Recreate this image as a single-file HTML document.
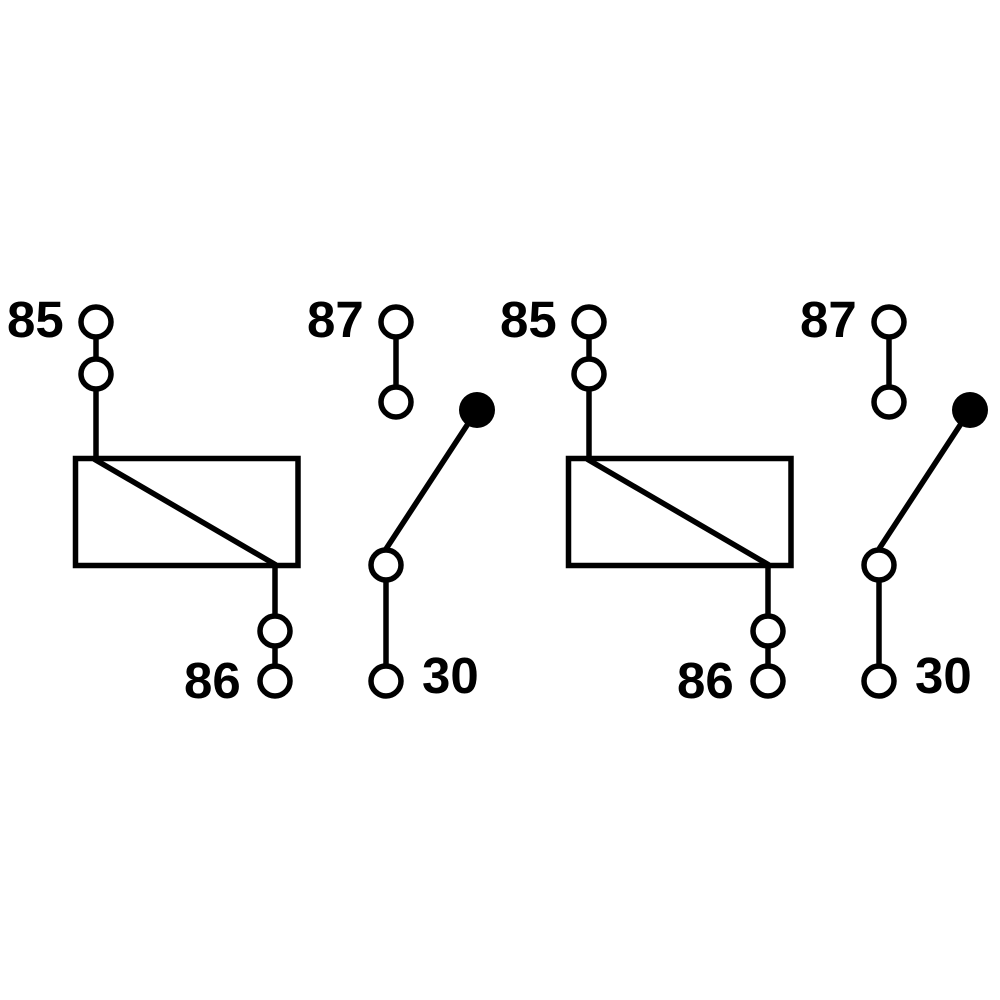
<!DOCTYPE html>
<html><head><style>body{margin:0;background:#fff}svg{display:block}</style></head>
<body>
<svg width="1000" height="1000" viewBox="0 0 1000 1000" xmlns="http://www.w3.org/2000/svg">
<defs>
<g id="r" stroke="#000" stroke-width="5.5" fill="none">
  <line x1="96" y1="338" x2="96" y2="358"/>
  <line x1="96" y1="390" x2="96" y2="458"/>
  <rect x="75.5" y="458.5" width="222.5" height="107"/>
  <line x1="94" y1="459" x2="276" y2="565"/>
  <line x1="275" y1="565" x2="275" y2="616"/>
  <line x1="275" y1="647" x2="275" y2="666"/>
  <line x1="396" y1="338" x2="396" y2="386"/>
  <line x1="386" y1="549" x2="477" y2="410"/>
  <line x1="386" y1="581" x2="386" y2="666"/>
  <circle cx="96" cy="322" r="15" fill="#fff"/>
  <circle cx="96" cy="374" r="15" fill="#fff"/>
  <circle cx="275" cy="631" r="15" fill="#fff"/>
  <circle cx="275" cy="681" r="15" fill="#fff"/>
  <circle cx="396" cy="322" r="15" fill="#fff"/>
  <circle cx="396" cy="402" r="15" fill="#fff"/>
  <circle cx="386" cy="565" r="15" fill="#fff"/>
  <circle cx="386" cy="681" r="15" fill="#fff"/>
  <circle cx="477" cy="410" r="18" fill="#000" stroke="none"/>
</g>
<g id="t" font-family="Liberation Sans, sans-serif" font-weight="bold" font-size="51" fill="#000">
  <text x="7" y="337">85</text>
  <text x="307" y="337">87</text>
  <text x="184" y="698">86</text>
  <text x="422" y="693">30</text>
</g>
</defs>
<use href="#r"/><use href="#t"/>
<use href="#r" transform="translate(493,0)"/><use href="#t" transform="translate(493,0)"/>
</svg>
</body></html>
